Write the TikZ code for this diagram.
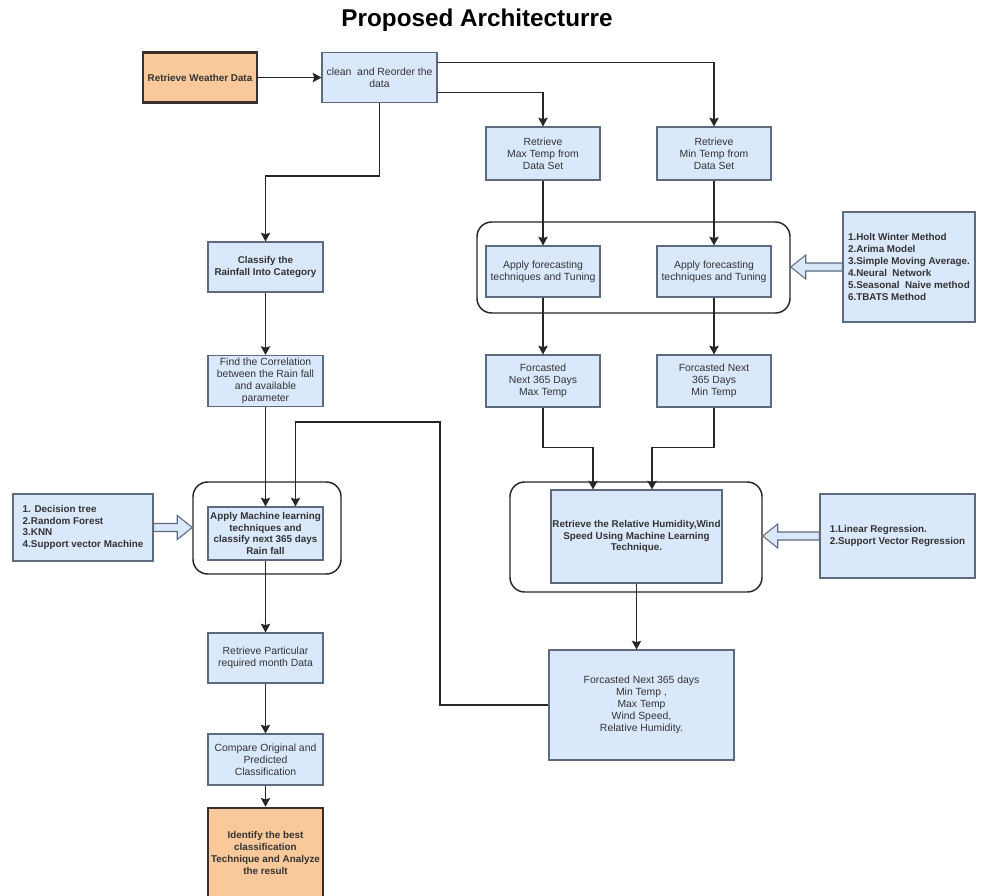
\documentclass[tikz,border=0pt]{standalone}
\usepackage{fontspec}
\setmainfont{Liberation Sans}
\usetikzlibrary{arrows.meta,calc}

\definecolor{boxblue}{HTML}{DAE8FC}
\definecolor{boxline}{HTML}{5E6B7D}
\definecolor{orangefill}{HTML}{F9C89B}
\definecolor{orangeline}{HTML}{3A3029}
\definecolor{txtgray}{HTML}{333333}

\tikzset{
  sz/.style 2 args={minimum width=#1*0.75pt, minimum height=#2*0.75pt},
  blubox/.style={draw=boxline, fill=boxblue, line width=0.8pt, inner sep=1pt, align=center,
    font=\fontsize{7.8}{8.9}\selectfont, text=txtgray},
  boldtxt/.style={font=\fontsize{7.4}{8.9}\selectfont\bfseries},
  orabox/.style={blubox, boldtxt, draw=orangeline, fill=orangefill, line width=2pt},
  listbox/.style={blubox, boldtxt, align=left},
  grpbox/.style={draw=black!85, rounded corners=11pt, line width=1.1pt},
  conn/.style={draw=black!85, line width=1.1pt, -{Stealth[length=6.5pt,width=7pt,inset=1pt]}},
  fatarrow/.style={draw=boxline, fill=boxblue, line width=0.8pt},
}

% hollow arrow: tail anchor, tip anchor, direction (+1 right, -1 left)
\newcommand{\fatarrow}[3]{%
  \draw[fatarrow] ($(#1)+(0,-4)$) -- ($(#2 |- #1)+(-15*#3,-4)$) -- ($(#2 |- #1)+(-15*#3,-12)$)
    -- (#2 |- #1) -- ($(#2 |- #1)+(-15*#3,12)$) -- ($(#2 |- #1)+(-15*#3,4)$) -- ($(#1)+(0,4)$) -- cycle;}

\begin{document}
\begin{tikzpicture}[x=0.75pt,y=-0.75pt]
    \useasboundingbox (0,0) rectangle (987,895);
    \clip (0,0) rectangle (987,895);

    \node (title) at (477,20) {\fontsize{18.2}{20}\selectfont\bfseries Proposed Architecturre};

    % top row
    \node[orabox, sz={114}{50}] (weather) at (200,77.5) {Retrieve Weather Data};
    \node[blubox, sz={115}{50}] (clean) at (379.5,77.5) {clean\ \ and Reorder the\\data};
    \node[blubox, sz={114}{53}] (maxt) at (543,153.5) {Retrieve\\Max Temp from\\Data Set};
    \node[blubox, sz={114}{53}] (mint) at (714,153.5) {Retrieve\\Min Temp from\\Data Set};

    % forecasting block
    \node[grpbox, sz={313}{91}] (fcgrp) at (633.5,267.5) {};
    \node[blubox, sz={114}{51}] (fcmax) at (543,271.5) {Apply forecasting\\techniques and Tuning};
    \node[blubox, sz={114}{51}] (fcmin) at (714,271.5) {Apply forecasting\\techniques and Tuning};
    \node[listbox, sz={132}{110}] (fclist) at (909,267) {1.Holt Winter Method\\2.Arima Model\\3.Simple Moving Average.\\4.Neural\ \ Network\\5.Seasonal\ \ Naive method\\6.TBATS Method};
    \node[blubox, sz={114}{52}] (fmax) at (543,381) {Forcasted\\Next 365 Days\\Max Temp};
    \node[blubox, sz={114}{52}] (fmin) at (714,381) {Forcasted Next\\365 Days\\Min Temp};

    % rainfall column
    \node[blubox, boldtxt, sz={115}{50}] (classify) at (265.5,267) {Classify the\\Rainfall Into Category};
    \node[blubox, sz={115}{51}] (corr) at (265.5,381) {Find the Correlation\\between the Rain fall\\and available\\parameter};
    \node[grpbox, sz={148}{92}] (mlgrp) at (267,528) {};
    \node[blubox, boldtxt, sz={115}{53}] (mlapp) at (265.5,533.5) {Apply Machine learning\\techniques and\\classify next 365 days\\Rain fall};
    \node[listbox, sz={140}{67}] (mllist) at (83,527.5) {1. Decision tree\\2.Random Forest\\3.KNN\\4.Support vector Machine};
    \node[blubox, sz={115}{50}] (part) at (265.5,658) {Retrieve Particular\\required month Data};
    \node[blubox, sz={115}{51}] (comp) at (265.5,759.5) {Compare Original and\\Predicted\\Classification};
    \node[orabox, sz={115}{90}] (ident) at (265.5,853) {Identify the best\\classification\\Technique and Analyze\\the result};

    % humidity / wind block
    \node[grpbox, sz={252}{110}] (rggrp) at (636,537) {};
    \node[blubox, boldtxt, sz={171}{93}] (hum) at (636.5,536.5) {Retrieve the Relative Humidity,Wind\\Speed Using Machine Learning\\Technique.};
    \node[listbox, sz={155}{84}] (rglist) at (897.5,536) {1.Linear Regression.\\2.Support Vector Regression};
    \node[blubox, sz={185}{110}] (fall) at (641.5,705) {Forcasted Next 365 days\\Min Temp ,\\Max Temp\\Wind Speed,\\Relative Humidity.};

    % connectors
    \draw[conn] (weather) -- (clean);
    \draw[conn] ($(clean.east)+(0,-15)$) -| (mint.north);
    \draw[conn] ($(clean.east)+(0,15)$) -| (maxt.north);
    \draw[conn] (clean.south) -- ++(0,73) -| (classify.north);
    \draw[conn] (maxt) -- (fcmax);
    \draw[conn] (mint) -- (fcmin);
    \draw[conn] (fcmax) -- (fmax);
    \draw[conn] (fcmin) -- (fmin);
    \draw[conn] (classify) -- (corr);
    \draw[conn] (corr) -- (mlapp);
    \draw[conn] (fall.west) -| (440,422) -| ($(mlapp.north)+(30,0)$);
    \draw[conn] (fmax.south) -- ++(0,40) -| ($(hum.north)+(-43.5,0)$);
    \draw[conn] (fmin.south) -- ++(0,40) -| ($(hum.north)+(15.5,0)$);
    \draw[conn] (hum.south) -- (hum.south |- fall.north);
    \draw[conn] (mlapp) -- (part);
    \draw[conn] (part) -- (comp);
    \draw[conn] (comp) -- (ident);

    \fatarrow{fclist.west}{fcgrp.east}{-1}
    \fatarrow{rglist.west}{rggrp.east}{-1}
    \fatarrow{mllist.east}{mlgrp.west}{1}

\end{tikzpicture}
\end{document}
